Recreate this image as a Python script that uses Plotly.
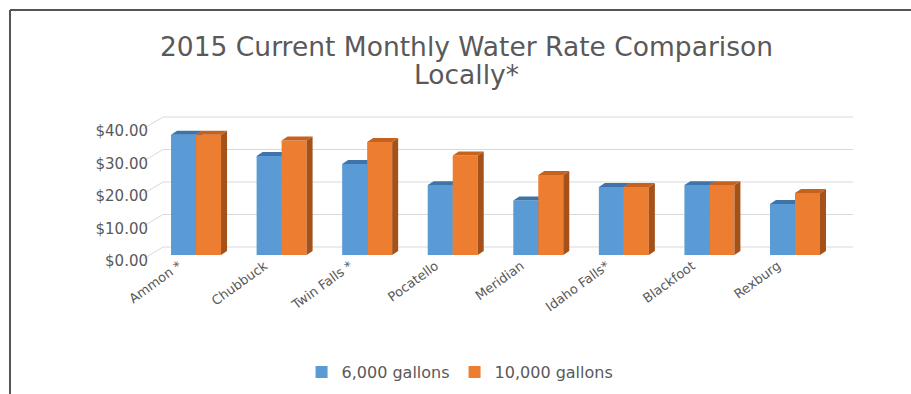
import plotly.graph_objects as go

# ---------------- data ----------------
cities = ["Ammon *", "Chubbuck", "Twin Falls *", "Pocatello", "Meridian",
          "Idaho Falls*", "Blackfoot", "Rexburg"]
gal_6000 = [37.0, 30.5, 28.0, 21.5, 16.8, 20.9, 21.5, 15.7]
gal_10000 = [37.0, 35.2, 34.8, 30.6, 24.6, 20.9, 21.5, 19.1]
ytick_vals = [0, 10, 20, 30, 40]
ytick_text = ["$0.00", "$10.00", "$20.00", "$30.00", "$40.00"]
series_names = ["6,000 gallons", "10,000 gallons"]
title_lines = ["2015 Current Monthly Water Rate Comparison", "Locally*"]

# ---------------- styling / geometry ----------------
W, H = 911, 394
PX_L, PX_R = 163, 853          # plot area left/right (px)
PX_B, PX_T = 255, 110          # plot area bottom/top (px)
X0, X1 = -0.386, 7.678
Y_PER_PX = 1 / 3.25
Y0, Y1 = 0, (PX_B - PX_T) * Y_PER_PX
X_PER_PX = (X1 - X0) / (PX_R - PX_L)

BAR_W = 25 * X_PER_PX
DX = 6 * X_PER_PX
DY = 4 * Y_PER_PX
GRID_SHIFT = 8 * Y_PER_PX

BLUE, BLUE_TOP, BLUE_SIDE = "#5B9BD5", "#3F74AB", "#2F5F8F"
ORANGE, ORANGE_TOP, ORANGE_SIDE = "#ED7D31", "#C4621E", "#A5521A"
TEXT = "#595959"
FONT = "DejaVu Sans"


def py(v):
    return PX_B - v / Y_PER_PX


def poly(points_list):
    xs, ys = [], []
    for pts in points_list:
        for (a, b) in pts:
            xs.append(a)
            ys.append(b)
        xs.append(pts[0][0])
        ys.append(pts[0][1])
        xs.append(None)
        ys.append(None)
    return xs, ys


idx = list(range(len(cities)))

blue_top, blue_side, orange_top, orange_side = [], [], [], []
for i, vb, vo in zip(idx, gal_6000, gal_10000):
    blue_top.append([(i - BAR_W, vb), (i - BAR_W + DX, vb + DY), (i + DX, vb + DY), (i, vb)])
    blue_side.append([(i, 0), (i + DX, DY), (i + DX, vb + DY), (i, vb)])
    orange_top.append([(i, vo), (i + DX, vo + DY), (i + BAR_W + DX, vo + DY), (i + BAR_W, vo)])
    orange_side.append([(i + BAR_W, 0), (i + BAR_W + DX, DY), (i + BAR_W + DX, vo + DY), (i + BAR_W, vo)])

fig = go.Figure()

# blue series (base subplot)
fig.add_trace(go.Bar(x=idx, y=gal_6000, width=BAR_W, offset=-BAR_W, name=series_names[0],
                     marker=dict(color=BLUE, line=dict(width=0)), xaxis="x", yaxis="y"))
for pts, col in ((blue_side, BLUE_SIDE), (blue_top, BLUE_TOP)):
    xs, ys = poly(pts)
    fig.add_trace(go.Scatter(x=xs, y=ys, fill="toself", fillcolor=col, mode="lines",
                             line=dict(width=0, color=col), showlegend=False, hoverinfo="skip",
                             xaxis="x", yaxis="y"))

# orange series (overlay subplot, drawn above blue)
fig.add_trace(go.Bar(x=idx, y=gal_10000, width=BAR_W, offset=0, name=series_names[1],
                     marker=dict(color=ORANGE, line=dict(width=0)), xaxis="x2", yaxis="y2"))
for pts, col in ((orange_side, ORANGE_SIDE), (orange_top, ORANGE_TOP)):
    xs, ys = poly(pts)
    fig.add_trace(go.Scatter(x=xs, y=ys, fill="toself", fillcolor=col, mode="lines",
                             line=dict(width=0, color=col), showlegend=False, hoverinfo="skip",
                             xaxis="x2", yaxis="y2"))

shapes = []
for t in ytick_vals:
    shapes.append(dict(type="line", xref="x domain", yref="y", x0=0, x1=1,
                       y0=t + GRID_SHIFT, y1=t + GRID_SHIFT, layer="below",
                       line=dict(color="#D9D9D9", width=1)))
    shapes.append(dict(type="line", xref="paper", yref="paper",
                       x0=143 / W, x1=PX_L / W,
                       y0=1 - (py(t) + 4) / H, y1=1 - (py(t) - 8) / H,
                       layer="below", line=dict(color="#D9D9D9", width=1)))
shapes.append(dict(type="line", xref="paper", yref="paper", x0=10 / W, x1=1, y0=1 - 10 / H, y1=1 - 10 / H,
                   line=dict(color="#555555", width=2)))
shapes.append(dict(type="line", xref="paper", yref="paper", x0=10 / W, x1=10 / W, y0=1 - 10 / H, y1=0,
                   line=dict(color="#555555", width=2)))

annotations = [
    dict(text=title_lines[0], xref="paper", yref="paper", x=0.512, y=1 - 47 / H,
         xanchor="center", yanchor="middle", showarrow=False,
         font=dict(family=FONT, size=26.5, color=TEXT)),
    dict(text=title_lines[1], xref="paper", yref="paper", x=0.512, y=1 - 74 / H,
         xanchor="center", yanchor="middle", showarrow=False,
         font=dict(family=FONT, size=26.5, color=TEXT)),
]

x_dom = [PX_L / W, PX_R / W]
y_dom = [1 - PX_B / H, 1 - PX_T / H]

fig.update_layout(
    width=W, height=H,
    margin=dict(l=0, r=0, t=0, b=0, autoexpand=False),
    paper_bgcolor="white", plot_bgcolor="rgba(0,0,0,0)",
    font=dict(family=FONT, color=TEXT),
    xaxis=dict(domain=x_dom, range=[X0, X1], tickmode="array", automargin=False,
               tickvals=[i - 0.2 for i in idx], ticktext=cities, tickangle=-36,
               tickfont=dict(family=FONT, size=13, color=TEXT),
               showgrid=False, zeroline=False, showline=False, ticks=""),
    yaxis=dict(domain=y_dom, range=[Y0, Y1], tickmode="array", tickvals=ytick_vals, automargin=False,
               ticktext=ytick_text, tickfont=dict(family=FONT, size=15, color=TEXT),
               showgrid=False, zeroline=False, showline=False, ticks="",
               ticklabelstandoff=14, ticklabelshift=6),
    xaxis2=dict(overlaying="x", matches="x", visible=False, domain=x_dom, range=[X0, X1], automargin=False),
    yaxis2=dict(overlaying="y", matches="y", visible=False, domain=y_dom, range=[Y0, Y1], automargin=False),
    showlegend=True,
    legend=dict(orientation="h", x=0.505, xanchor="center", y=1 - 372 / H, yanchor="middle",
                font=dict(family=FONT, size=16, color=TEXT), itemwidth=30,
                bgcolor="rgba(0,0,0,0)"),
    shapes=shapes,
    annotations=annotations,
    barmode="overlay",
)

fig.write_html("out.html")
